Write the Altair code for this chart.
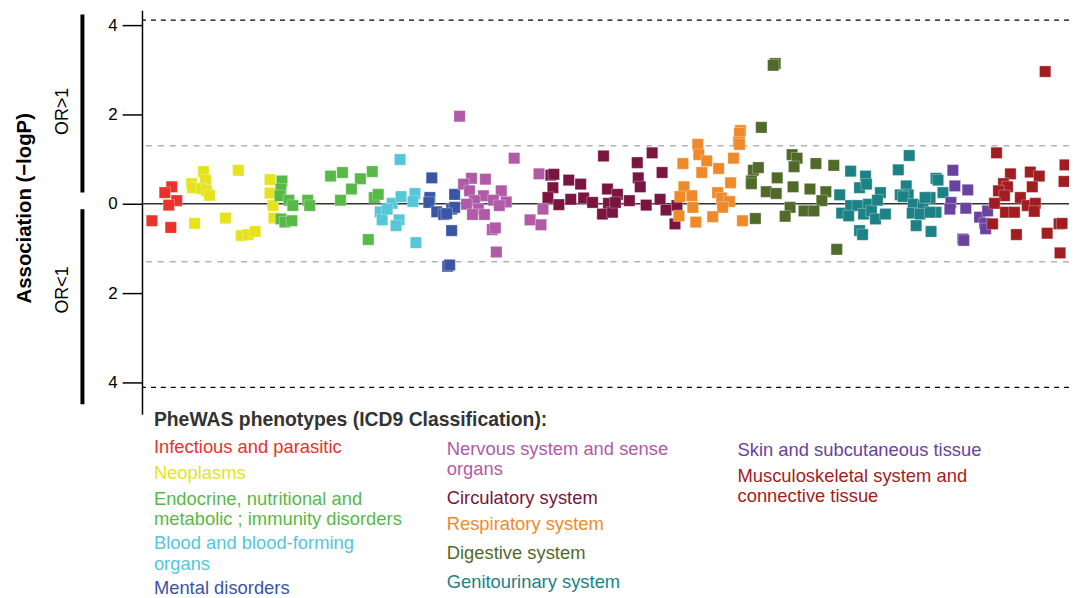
import altair as alt
import pandas as pd

FONT = "Liberation Sans"

# ---------------- data ----------------
categories = [
    "Infectious and parasitic",
    "Neoplasms",
    "Endocrine, nutritional and metabolic ; immunity disorders",
    "Blood and blood-forming organs",
    "Mental disorders",
    "Nervous system and sense organs",
    "Circulatory system",
    "Respiratory system",
    "Digestive system",
    "Genitourinary system",
    "Skin and subcutaneous tissue",
    "Musculoskeletal system and connective tissue",
]
colors = [
    "#e8322b", "#e6e31e", "#57b947", "#56c6d9", "#3a55a4", "#b05aa8",
    "#7a1440", "#ef8a2b", "#506a2a", "#1c8285", "#6a42a0", "#a21d21",
]

# phenotype position (x) and signed association (-logP, + for OR>1, - for OR<1)
infectious_x = [30, 23, 35, 27, 10, 29]
infectious_y = [0.38, 0.25, 0.07, -0.03, -0.38, -0.53]

neoplasms_x = [62, 64, 50, 51, 60, 65, 68, 97, 53, 84, 100, 107, 114, 129, 129, 132, 133]
neoplasms_y = [0.72, 0.53, 0.45, 0.36, 0.34, 0.29, 0.19, 0.75, -0.44, -0.32, -0.71, -0.69, -0.62, 0.54, 0.24, -0.04, -0.32]

endocrine_x = [141, 140, 139, 148, 152, 140, 144, 151, 167, 169, 190, 202, 220, 211, 232, 200, 234, 238, 228]
endocrine_y = [0.51, 0.33, 0.18, 0.08, -0.04, -0.34, -0.41, -0.38, 0.08, -0.04, 0.62, 0.70, 0.56, 0.33, 0.72, 0.08, 0.14, 0.21, -0.80]

blood_x = [260, 252, 261, 275, 273, 240, 242, 247, 259, 256, 276]
blood_y = [0.99, 0.01, 0.16, 0.23, 0.05, -0.18, -0.36, -0.12, -0.36, -0.49, -0.87]

mental_x = [292, 290, 289, 297, 304, 312, 312, 308, 310, 315, 315, 307]
mental_y = [0.58, 0.14, 0.03, -0.18, -0.24, -0.12, -0.60, -1.40, -1.37, 0.21, -0.08, -0.22]

nervous_x = [320, 375, 332, 346, 324, 330, 344, 362, 335, 327, 354, 367, 360, 339, 333, 345, 353, 356, 357, 400, 404, 391, 402]
nervous_y = [1.96, 1.02, 0.57, 0.55, 0.44, 0.29, 0.18, 0.29, 0.07, -0.01, 0.08, 0.04, -0.04, -0.12, -0.24, -0.24, -0.58, -0.54, -1.08, 0.67, -0.12, -0.36, -0.47]

circulatory_x = [412, 415, 414, 430, 442, 409, 420, 432, 445, 454, 465, 469, 470, 464, 474, 514, 499, 524, 500, 502, 479, 477, 491, 508, 522, 528, 539, 537]
circulatory_y = [0.64, 0.66, 0.36, 0.53, 0.44, 0.14, -0.02, 0.10, 0.13, 0.03, 1.07, 0.33, 0.01, -0.23, -0.19, 1.14, 0.92, 0.70, 0.58, 0.38, 0.21, 0.03, 0.07, -0.03, 0.10, -0.14, -0.04, -0.45]

respiratory_x = [603, 602, 601, 602, 560, 561, 569, 564, 545, 581, 596, 546, 593, 542, 554, 580, 584, 592, 555, 585, 541, 575, 558, 605]
respiratory_y = [1.64, 1.58, 1.38, 1.33, 1.33, 1.10, 0.96, 0.70, 0.90, 0.79, 1.02, 0.38, 0.47, 0.16, 0.18, 0.25, 0.13, 0.05, -0.08, -0.08, -0.27, -0.29, -0.41, -0.38]

digestive_x = [638, 636, 624, 616, 621, 614, 614, 629, 639, 640, 618, 655, 660, 657, 656, 679, 673, 689, 685, 697, 653, 648, 667, 677, 700]
digestive_y = [3.14, 3.10, 1.71, 0.75, 0.81, 0.51, 0.45, 0.27, 0.23, 0.58, -0.33, 1.10, 1.02, 0.83, 0.38, 0.90, 0.33, 0.27, 0.07, 0.86, -0.08, -0.28, -0.16, -0.16, -1.02]

genitourinary_x = [714, 729, 723, 730, 703, 705, 714, 721, 712, 732, 727, 735, 739, 744, 741, 749, 723, 726, 773, 762, 770, 764, 772, 767, 777, 776, 787, 784, 780, 795, 800, 802, 807, 794, 789, 800, 794]
genitourinary_y = [0.73, 0.62, 0.36, 0.44, 0.20, -0.21, -0.04, -0.04, -0.27, -0.01, -0.23, -0.16, -0.34, 0.25, 0.08, -0.23, -0.60, -0.69, 1.08, 0.76, 0.40, 0.20, 0.20, 0.16, -0.01, -0.21, -0.04, -0.23, -0.49, -0.62, 0.57, 0.53, 0.25, 0.14, 0.14, -0.19, -0.19]

skin_x = [817, 819, 832, 815, 814, 830, 844, 849, 852, 850, 827, 828]
skin_y = [0.75, 0.40, 0.31, 0.03, -0.12, -0.10, -0.30, -0.44, -0.16, -0.56, -0.79, -0.82]

musculo_x = [861, 875, 868, 872, 863, 869, 859, 870, 879, 857, 881, 895, 904, 897, 885, 892, 900, 899, 910, 912, 930, 929, 924, 927, 925]
musculo_y = [1.14, 0.67, 0.45, 0.38, 0.29, 0.18, 0.01, -0.19, -0.19, -0.45, -0.69, 0.71, 0.62, 0.38, 0.14, -0.04, 0.01, -0.17, 2.96, -0.66, 0.87, 0.50, -0.45, -0.44, -1.10]

series_x = [infectious_x, neoplasms_x, endocrine_x, blood_x, mental_x, nervous_x,
            circulatory_x, respiratory_x, digestive_x, genitourinary_x, skin_x, musculo_x]
series_y = [infectious_y, neoplasms_y, endocrine_y, blood_y, mental_y, nervous_y,
            circulatory_y, respiratory_y, digestive_y, genitourinary_y, skin_y, musculo_y]

tick_values = [-4, -2, 0, 2, 4]
bonferroni_lines = [4.11, -4.11]
nominal_lines = [1.3, -1.3]
or_labels = ["OR>1", "OR<1"]

legend_title = "PheWAS phenotypes (ICD9 Classification):"
legend_labels = [
    "Infectious and parasitic",
    "Neoplasms",
    "Endocrine, nutritional and\nmetabolic ; immunity disorders",
    "Blood and blood-forming\norgans",
    "Mental disorders",
    "Nervous system and sense\norgans",
    "Circulatory system",
    "Respiratory system",
    "Digestive system",
    "Genitourinary system",
    "Skin and subcutaneous tissue",
    "Musculoskeletal system and\nconnective tissue",
]

# ---------------- layout (pixels, separate from data) ----------------
W, H = 934, 407
Y_DOMAIN = [-4.711, 4.333]
legend_px_x = [12, 12, 12, 12, 12, 307, 307, 307, 307, 307, 600, 600]
legend_px_y = [440, 466, 492, 537, 582, 442, 491, 518, 547, 576, 443, 469]
or_label_y = [2.07, -1.93]
bar_top = [4.24, -0.12]
bar_bottom = [0.25, -4.49]

rows = []
for cat, xs, ys in zip(categories, series_x, series_y):
    for xv, yv in zip(xs, ys):
        rows.append({"category": cat, "pos": xv, "assoc": yv})
df = pd.DataFrame(rows)

yscale = alt.Scale(domain=Y_DOMAIN, nice=False, zero=False)
xscale = alt.Scale(domain=[0, W], nice=False, zero=False)

yaxis = alt.Axis(
    values=tick_values,
    labelExpr="format(abs(datum.value), 'd')",
    title="Association (\u2212logP)",
    titleFont=FONT,
    titleFontSize=20.5,
    titleFontWeight="bold",
    titleColor="black",
    titleX=-118,
    titleY=199,
    titleBaseline="middle",
    titleAngle=270,
    labelFont=FONT,
    labelFontSize=17,
    labelColor="black",
    labelPadding=5,
    tickSize=20,
    tickColor="black",
    tickWidth=1.5,
    domainColor="black",
    domainWidth=1.5,
    grid=False,
)

points = alt.Chart(df).mark_square(
    size=130, opacity=1, stroke="white", strokeWidth=0.5, strokeOpacity=0.6
).encode(
    x=alt.X("pos:Q", scale=xscale, axis=None),
    y=alt.Y("assoc:Q", scale=yscale, axis=yaxis),
    color=alt.Color("category:N", scale=alt.Scale(domain=categories, range=colors), legend=None),
)

zero_rule = alt.Chart(pd.DataFrame({"v": [0]})).mark_rule(color="#333", strokeWidth=1.5).encode(
    y=alt.Y("v:Q", scale=yscale, axis=yaxis)
)
black_rules = alt.Chart(pd.DataFrame({"v": bonferroni_lines})).mark_rule(
    color="black", strokeWidth=1.3, strokeDash=[5, 5]
).encode(y=alt.Y("v:Q", scale=yscale, axis=yaxis))
gray_rules = alt.Chart(pd.DataFrame({"v": nominal_lines})).mark_rule(
    color="#b3b3b3", strokeWidth=1.5, strokeDash=[6, 6]
).encode(y=alt.Y("v:Q", scale=yscale, axis=yaxis))

bars = alt.Chart(pd.DataFrame({"a": bar_top, "b": bar_bottom})).mark_rule(
    color="black", strokeWidth=4
).encode(
    x=alt.value(-60),
    y=alt.Y("a:Q", scale=yscale, axis=yaxis),
    y2="b:Q",
)
or_text = alt.Chart(pd.DataFrame({"lab": or_labels, "v": or_label_y})).mark_text(
    angle=270, font=FONT, fontSize=18, color="black", align="center", baseline="middle"
).encode(
    x=alt.value(-80),
    y=alt.Y("v:Q", scale=yscale, axis=yaxis),
    text="lab:N",
)

legend_df = pd.DataFrame({
    "label": legend_labels,
    "color": colors,
    "lx": legend_px_x,
    "ly": legend_px_y,
})
legend_items = alt.Chart(legend_df).mark_text(
    align="left", baseline="middle", font=FONT, fontSize=18.5, lineBreak="\n", lineHeight=20.5
).encode(
    x=alt.X("lx:Q", scale=None, axis=None),
    y=alt.Y("ly:Q", scale=None, axis=None),
    text="label:N",
    color=alt.Color("color:N", scale=None, legend=None),
)
legend_head = alt.Chart(pd.DataFrame({"t": [legend_title], "lx": [12], "ly": [413]})).mark_text(
    align="left", baseline="middle", font=FONT, fontSize=19.5, fontWeight="bold", color="#333"
).encode(
    x=alt.X("lx:Q", scale=None, axis=None),
    y=alt.Y("ly:Q", scale=None, axis=None),
    text="t:N",
)

chart = alt.layer(
    gray_rules, black_rules, zero_rule, points, bars, or_text, legend_items, legend_head
).properties(
    width=W,
    height=H,
    autosize=alt.AutoSizeParams(type="none"),
    padding={"left": 135, "top": 0, "right": 0, "bottom": 190},
    background="white",
).configure_view(stroke=None)

chart.save("out.html", embed_options={"renderer": "svg", "actions": False})
